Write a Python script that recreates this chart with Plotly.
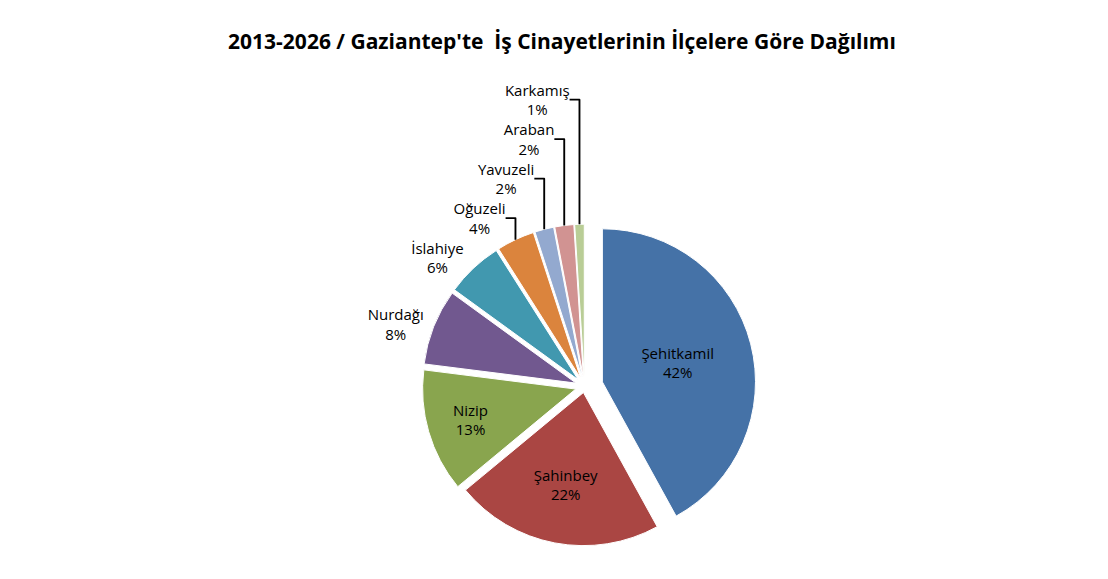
import plotly.graph_objects as go

districts = ["Şehitkamil", "Şahinbey", "Nizip", "Nurdağı", "İslahiye",
             "Oğuzeli", "Yavuzeli", "Araban", "Karkamış"]
shares = [42, 22, 13, 8, 6, 4, 2, 2, 1]
colors = ["#4572A7", "#AA4643", "#89A54E", "#71588F", "#4198AF",
          "#DB843D", "#93A9CF", "#D19392", "#B9CD96"]
positions = ["inside", "inside", "inside", "outside", "outside",
             "outside", "outside", "outside", "outside"]

fig = go.Figure(go.Pie(
    labels=districts,
    values=shares,
    sort=False,
    direction="clockwise",
    rotation=0,
    pull=[0.12, 0.04, 0.06, 0.06, 0.06, 0.06, 0.06, 0.06, 0.06],
    marker=dict(colors=colors, line=dict(color="#ffffff", width=1)),
    texttemplate="%{label}<br>%{percent:.0%}",
    textposition=positions,
    insidetextorientation="horizontal",
    textfont=dict(family="Open Sans", size=15, color="#000000"),
    showlegend=False,
    domain=dict(x=[0.15, 0.9], y=[0.0, 0.7]),
))

fig.update_layout(
    title=dict(text="<b>2013-2026 / Gaziantep'te  İş Cinayetlerinin İlçelere Göre Dağılımı</b>",
               x=0.5, y=0.955, xanchor="center",
               font=dict(family="Open Sans", size=21, color="#000000")),
    width=1108, height=579,
    margin=dict(l=20, r=20, t=60, b=15),
    paper_bgcolor="#ffffff",
    plot_bgcolor="#ffffff",
)

fig.write_html("out.html")
